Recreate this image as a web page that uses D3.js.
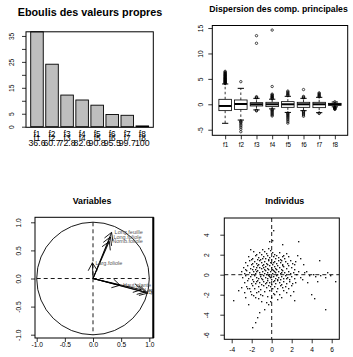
<!DOCTYPE html>
<html>
<head>
<meta charset="utf-8">
<script src="https://cdn.jsdelivr.net/npm/d3@7"></script>
<style>
	body { margin: 0; background: #fff; }
	svg { display: block; }
</style>
</head>
<body>
<svg id="chart" width="353" height="357"></svg>
<script>
/* eslint-disable no-var, no-undef */

// scree plot: % inertia per axis, names printed under bars
var axisNames = [ 'f1', 'f2', 'f3', 'f4', 'f5', 'f6', 'f7', 'f8' ];
var inertia = [ 36.6, 24.1, 12.2, 10.3, 8.3, 4.7, 4.4, 0.3 ];
var inertiaCum = [ '36.6', '60.7', '72.8', '82.6', '90.8', '95.5', '99.7', '100' ];
var screeTicks = [ 0, 5, 10, 15, 20, 25, 30, 35 ];
var screeLabels = [ 0, 5, 15, 25, 35 ];

// boxplots of principal components
var boxQ1 = [ -1.25, -1.0, -0.33, -0.46, -0.6, -0.6, -0.66, -0.2 ];
var boxMed = [ -0.33, 0.06, 0.0, 0.0, 0.0, 0.0, 0.0, 0.0 ];
var boxQ3 = [ 0.98, 0.85, 0.32, 0.39, 0.52, 0.39, 0.39, 0.19 ];
var boxLow = [ -3.74, -3.1, -1.1, -0.9, -1.6, -1.25, -1.65, -0.5 ];
var boxHigh = [ 4.0, 3.14, 1.17, 1.0, 1.57, 1.17, 1.37, 0.45 ];
var boxOut = [
	[ 4.08, 4.15, 4.27, 4.33, 4.41, 4.52, 4.6, 4.66, 4.78, 4.85, 4.97, 5.04, 5.12, 5.25, 5.31, 5.43, 5.56, 5.62, 5.74, 5.88, 5.95, 6.07, 6.2, 6.34, 6.48 ],
	[ 4.45, -3.3, -3.45, -3.6, -3.9, -4.2, -4.5, -4.9, -5.4 ],
	[ 1.25, 1.35, 1.5, 12.0, 13.5, -1.2, -1.3 ],
	[ 1.1, 1.2, 1.3, 1.45, 1.55, 1.7, 1.85, 2.0, 3.5, 14.6, -1.0, -1.15, -1.3, -1.5, -1.7, -1.9, -2.1, -2.3 ],
	[ 1.7, 1.85, 2.0, 2.2, 2.4, 2.6, -1.7, -1.85, -2.0, -2.2, -2.4, -2.6, -2.85, -3.1, -3.4, -3.7 ],
	[ 1.25, 1.4, 1.55, 2.9, -1.35, -1.5, -1.7, -1.9, -2.1, -2.35 ],
	[ 1.45, 1.6, 1.75, 1.9, 2.1, 2.25, -1.7, -1.8 ],
	[ 0.5, -0.55, -0.62, -0.7, -0.78, -0.85, -0.93, -1.0 ]
];
var dispTicks = [ -5, 0, 5, 10, 15 ];

// correlation circle
var varNames = [ 'Long.feuille', 'Long.foliole', 'Nomb.foliole', 'Larg.foliole', 'Haut.plante', 'Long.tige', 'Diam.tige', 'Nomb.tige' ];
var varX = [ 0.33, 0.31, 0.29, -0.01, 0.48, 0.86, 0.93, 0.97 ];
var varY = [ 0.82, 0.74, 0.66, 0.28, -0.12, -0.2, -0.24, -0.26 ];
var corTicks = [ -1, -0.5, 0, 0.5, 1 ];

// individuals on the first plane
var indTicksX = [ -4, -2, 0, 2, 4, 6 ];
var indTicksY = [ -6, -4, -2, 0, 2, 4 ];
var indiv = [
	[ 0.2, 4.4 ], [ -0.2, 3.3 ], [ 0.1, 3.4 ], [ 1.1, 3.0 ], [ 2.7, 3.3 ], [ 4.8, 1.4 ], [ 2.6, 1.9 ], [ 2.9, 1.6 ], [ 3.2, 1.0 ], [ 2.3, 1.0 ],
	[ 3.5, 0.3 ], [ 3.8, -0.1 ], [ 4.2, 0.0 ], [ 4.4, -0.2 ], [ 4.9, -0.1 ], [ 5.4, -0.3 ], [ 5.9, -0.1 ], [ 6.4, -0.7 ], [ 5.6, 0.2 ], [ 4.6, -0.7 ],
	[ 3.6, -0.8 ], [ 3.1, -0.5 ], [ 3.3, 0.2 ], [ 2.9, -0.3 ],
	[ 4.0, -2.0 ], [ 4.3, -2.4 ], [ 5.4, -3.5 ], [ 2.3, -2.6 ], [ 1.5, -1.8 ], [ 1.0, -2.3 ], [ 0.6, -2.5 ], [ 0.3, -2.0 ],
	[ -1.9, -5.3 ], [ -1.6, -4.8 ], [ -1.4, -4.3 ], [ -1.2, -3.8 ], [ -0.7, -3.5 ], [ -0.3, -3.0 ], [ -0.1, -2.7 ], [ -0.5, -2.8 ],
	[ -1.0, -2.7 ], [ -2.3, -3.0 ], [ -3.8, -2.6 ], [ -2.7, -1.8 ], [ -2.0, -2.0 ], [ -1.6, -2.3 ], [ -2.4, -1.4 ], [ -3.0, -1.3 ],
	[ -3.3, -1.6 ], [ -2.6, -2.3 ], [ -1.3, -1.7 ], [ -0.9, -2.1 ],
	[ -1.8, 2.3 ], [ -1.2, 2.2 ], [ -0.9, 2.5 ], [ -0.5, 2.1 ], [ -0.1, 2.4 ], [ 0.3, 2.0 ], [ -1.5, 2.0 ], [ -2.1, 2.5 ], [ 0.8, 2.2 ],
	[ -0.3, 2.6 ], [ 1.5, 2.1 ], [ -0.7, 2.3 ], [ 0.1, 2.2 ], [ -1.0, 2.0 ], [ 1.2, 1.9 ],
	[ -2.3, 1.8 ], [ -1.9, 1.6 ], [ -1.6, 1.9 ], [ -1.3, 1.7 ], [ -1.1, 1.5 ], [ -0.8, 1.8 ], [ -0.6, 1.6 ], [ -0.4, 1.9 ], [ -0.2, 1.7 ],
	[ 0.0, 1.5 ], [ 0.2, 1.8 ], [ 0.4, 1.6 ], [ 0.7, 1.7 ], [ 0.9, 1.5 ], [ 1.3, 1.6 ], [ 1.7, 1.8 ], [ -1.4, 1.5 ], [ -0.9, 1.6 ],
	[ -0.3, 1.5 ], [ 0.5, 1.9 ], [ -2.0, 1.5 ], [ 1.1, 1.8 ],
	[ -2.6, 1.2 ], [ -2.2, 1.4 ], [ -1.9, 1.1 ], [ -1.7, 1.3 ], [ -1.5, 1.1 ], [ -1.2, 1.4 ], [ -1.0, 1.2 ], [ -0.8, 1.0 ], [ -0.7, 1.3 ],
	[ -0.5, 1.1 ], [ -0.3, 1.4 ], [ -0.1, 1.2 ], [ 0.1, 1.0 ], [ 0.3, 1.3 ], [ 0.5, 1.1 ], [ 0.7, 1.4 ], [ 0.9, 1.2 ], [ 1.1, 1.0 ],
	[ 1.4, 1.3 ], [ 1.6, 1.1 ], [ 1.9, 1.4 ], [ 2.1, 1.1 ], [ -1.3, 1.0 ], [ -0.4, 1.0 ], [ 0.2, 1.2 ], [ 1.0, 1.4 ], [ -2.0, 1.0 ], [ 2.4, 1.3 ],
	[ -2.8, 0.7 ], [ -2.4, 0.9 ], [ -2.1, 0.6 ], [ -1.8, 0.8 ], [ -1.6, 0.5 ], [ -1.4, 0.9 ], [ -1.2, 0.7 ], [ -1.0, 0.6 ], [ -0.9, 0.9 ],
	[ -0.7, 0.5 ], [ -0.6, 0.8 ], [ -0.4, 0.6 ], [ -0.2, 0.9 ], [ 0.0, 0.7 ], [ 0.1, 0.5 ], [ 0.3, 0.8 ], [ 0.4, 0.6 ], [ 0.6, 0.9 ],
	[ 0.8, 0.7 ], [ 1.0, 0.5 ], [ 1.2, 0.8 ], [ 1.5, 0.6 ], [ 1.7, 0.9 ], [ 2.0, 0.7 ], [ 2.3, 0.5 ], [ -1.9, 0.5 ], [ -0.8, 0.7 ],
	[ -0.3, 0.5 ], [ 0.5, 0.5 ], [ 1.1, 0.9 ], [ -2.6, 0.5 ], [ -1.5, 0.7 ],
	[ -3.0, 0.3 ], [ -2.7, 0.1 ], [ -2.5, 0.4 ], [ -2.2, 0.2 ], [ -2.0, 0.0 ], [ -1.8, 0.3 ], [ -1.6, 0.1 ], [ -1.4, 0.4 ], [ -1.2, 0.2 ],
	[ -1.1, 0.0 ], [ -0.9, 0.3 ], [ -0.7, 0.1 ], [ -0.6, 0.4 ], [ -0.4, 0.2 ], [ -0.2, 0.0 ], [ -0.1, 0.3 ], [ 0.1, 0.1 ], [ 0.2, 0.4 ],
	[ 0.4, 0.2 ], [ 0.6, 0.0 ], [ 0.7, 0.3 ], [ 0.9, 0.1 ], [ 1.1, 0.4 ], [ 1.3, 0.2 ], [ 1.5, 0.0 ], [ 1.7, 0.3 ], [ 1.9, 0.1 ],
	[ 2.2, 0.2 ], [ 2.5, 0.0 ], [ -1.5, 0.3 ], [ -0.5, 0.0 ], [ 0.3, 0.3 ], [ 1.0, 0.2 ], [ 2.7, 0.3 ],
	[ -2.9, -0.3 ], [ -2.6, -0.1 ], [ -2.3, -0.4 ], [ -2.1, -0.2 ], [ -1.9, -0.5 ], [ -1.7, -0.1 ], [ -1.5, -0.3 ], [ -1.3, -0.4 ],
	[ -1.1, -0.2 ], [ -0.9, -0.5 ], [ -0.8, -0.1 ], [ -0.6, -0.3 ], [ -0.4, -0.4 ], [ -0.3, -0.1 ], [ -0.1, -0.3 ], [ 0.0, -0.5 ],
	[ 0.2, -0.2 ], [ 0.4, -0.4 ], [ 0.5, -0.1 ], [ 0.7, -0.3 ], [ 0.9, -0.5 ], [ 1.0, -0.2 ], [ 1.2, -0.4 ], [ 1.4, -0.1 ], [ 1.6, -0.3 ],
	[ 1.8, -0.5 ], [ 2.0, -0.2 ], [ 2.3, -0.4 ], [ -1.0, -0.4 ], [ -0.2, -0.2 ], [ 0.6, -0.5 ], [ 1.5, -0.4 ],
	[ -2.7, -0.8 ], [ -2.4, -0.6 ], [ -2.0, -0.9 ], [ -1.8, -0.7 ], [ -1.6, -0.9 ], [ -1.4, -0.6 ], [ -1.2, -0.8 ], [ -1.0, -1.0 ],
	[ -0.8, -0.7 ], [ -0.6, -0.9 ], [ -0.4, -0.6 ], [ -0.2, -0.8 ], [ 0.0, -1.0 ], [ 0.2, -0.7 ], [ 0.4, -0.9 ], [ 0.6, -0.6 ],
	[ 0.8, -0.8 ], [ 1.0, -1.0 ], [ 1.2, -0.7 ], [ 1.5, -0.9 ], [ 1.8, -0.7 ], [ 2.1, -0.9 ], [ -1.5, -0.7 ], [ -0.5, -0.8 ], [ 0.3, -0.6 ], [ 2.4, -0.8 ],
	[ -2.5, -1.2 ], [ -2.2, -1.4 ], [ -1.9, -1.1 ], [ -1.7, -1.4 ], [ -1.3, -1.2 ], [ -1.1, -1.5 ], [ -0.8, -1.1 ], [ -0.5, -1.3 ],
	[ -0.3, -1.1 ], [ 0.1, -1.4 ], [ 0.3, -1.2 ], [ 0.6, -1.4 ], [ 0.9, -1.1 ], [ 1.1, -1.3 ], [ 1.4, -1.2 ], [ 1.7, -1.4 ], [ 2.0, -1.1 ], [ -0.1, -1.2 ],
	[ -2.1, -1.7 ], [ -1.8, -2.1 ], [ -1.5, -1.8 ], [ -1.1, -2.0 ], [ -0.7, -1.7 ], [ -0.4, -2.2 ], [ -0.2, -1.6 ], [ 0.2, -1.9 ],
	[ 0.5, -1.7 ], [ 0.8, -2.0 ], [ 1.2, -1.6 ], [ 1.9, -2.1 ], [ 0.0, -2.3 ], [ -1.3, -2.4 ], [ 2.2, -1.7 ]
];

var font = "'Liberation Sans', Arial, Helvetica, sans-serif";
var svg = d3.select( '#chart' );

function title( text, x, y, size ) {
	svg.append( 'text' )
		.attr( 'x', x )
		.attr( 'y', y )
		.attr( 'text-anchor', 'middle' )
		.attr( 'font-family', font )
		.attr( 'font-weight', 'bold' )
		.attr( 'font-size', size )
		.text( text );
}

function frame( b, width ) {
	svg.append( 'rect' )
		.attr( 'x', b.left )
		.attr( 'y', b.top )
		.attr( 'width', b.right - b.left )
		.attr( 'height', b.bottom - b.top )
		.attr( 'fill', 'none' )
		.attr( 'stroke', '#000' )
		.attr( 'stroke-width', width || 1 );
}

function clipTo( id, b ) {
	svg.append( 'clipPath' )
		.attr( 'id', id )
		.append( 'rect' )
		.attr( 'x', b.left )
		.attr( 'y', b.top )
		.attr( 'width', b.right - b.left )
		.attr( 'height', b.bottom - b.top );
}

// R style axis: rotated labels on the left, only some ticks labelled
function leftAxis( scale, x, ticks, shown, offset, fmt ) {
	var ax = svg.append( 'g' )
		.attr( 'transform', 'translate(' + x + ',0)' )
		.call( d3.axisLeft( scale )
			.tickValues( ticks )
			.tickSize( 4 )
			.tickSizeOuter( 0 )
			.tickFormat( function( d ) {
				return shown.indexOf( d ) >= 0 ? fmt( d ) : '';
			} ) );
	ax.select( '.domain' ).remove();
	ax.selectAll( 'line' ).attr( 'stroke-width', 0.8 );
	ax.selectAll( 'text' )
		.attr( 'transform', 'rotate(-90)' )
		.attr( 'x', 0 )
		.attr( 'y', offset )
		.attr( 'dy', 0 )
		.attr( 'text-anchor', 'middle' )
		.attr( 'font-family', font )
		.attr( 'font-size', 6.6 );
}

function bottomAxis( scale, y, ticks, offset, fmt, size ) {
	var ax = svg.append( 'g' )
		.attr( 'transform', 'translate(0,' + y + ')' )
		.call( d3.axisBottom( scale )
			.tickValues( ticks )
			.tickSize( 4 )
			.tickSizeOuter( 0 )
			.tickFormat( fmt ) );
	ax.select( '.domain' ).remove();
	ax.selectAll( 'line' ).attr( 'stroke-width', 0.8 );
	ax.selectAll( 'text' )
		.attr( 'y', offset )
		.attr( 'dy', 0 )
		.attr( 'font-family', font )
		.attr( 'font-size', size || 6.6 );
}

function num1( d ) {
	return d.toFixed( 1 );
}

function num0( d ) {
	return String( d );
}

// ---- 1. scree plot
var scree = { left: 26, right: 153.3, top: 31.8, bottom: 127.3 };
var sx = d3.scaleBand()
	.domain( axisNames )
	.range( [ scree.left, scree.right ] )
	.paddingInner( 1 / 6 )
	.paddingOuter( 0.313 );
var sy = d3.scaleLinear()
	.domain( [ 0, 36.6 ] )
	.range( [ 126.7, 31.8 ] );

title( 'Eboulis des valeurs propres', 90, 15.5, 10.8 );

svg.append( 'g' )
	.selectAll( 'rect' )
	.data( inertia )
	.enter()
	.append( 'rect' )
	.attr( 'x', function( d, i ) {
		return sx( axisNames[ i ] );
	} )
	.attr( 'y', function( d ) {
		return sy( d );
	} )
	.attr( 'width', sx.bandwidth() )
	.attr( 'height', function( d ) {
		return sy( 0 ) - sy( d );
	} )
	.attr( 'fill', '#bebebe' )
	.attr( 'stroke', '#000' )
	.attr( 'stroke-width', 0.9 );

frame( scree );
leftAxis( sy, scree.left, screeTicks, screeLabels, -12, num0 );

var names = svg.append( 'g' )
	.attr( 'font-family', font )
	.attr( 'text-anchor', 'middle' );
axisNames.forEach( function( n, i ) {
	var cx = sx( n ) + sx.bandwidth() / 2;
	names.append( 'text' ).attr( 'x', cx ).attr( 'y', 136.5 ).attr( 'font-size', 8.3 ).text( n );
	names.append( 'text' ).attr( 'x', cx ).attr( 'y', 140.5 ).attr( 'font-size', 8.3 ).text( n );
	names.append( 'text' ).attr( 'x', cx ).attr( 'y', 145.5 ).attr( 'font-size', 8.8 ).text( inertiaCum[ i ] );
} );

// ---- 2. boxplots
var disp = { left: 212.3, right: 347.7, top: 25.5, bottom: 135.3 };
var bx = d3.scalePoint()
	.domain( axisNames )
	.range( [ disp.left, disp.right ] )
	.padding( 0.82 );
var by = d3.scaleLinear()
	.domain( [ -6.1, 15.5 ] )
	.range( [ disp.bottom, disp.top ] );
var boxW = bx.step() * 0.8;

title( 'Dispersion des comp. principales', 278.5, 11.5, 8.7 );

var bg = svg.append( 'g' ).attr( 'stroke', '#000' );
axisNames.forEach( function( n, i ) {
	var cx = bx( n );
	// whiskers
	bg.append( 'line' )
		.attr( 'x1', cx ).attr( 'x2', cx )
		.attr( 'y1', by( boxQ3[ i ] ) ).attr( 'y2', by( boxHigh[ i ] ) )
		.attr( 'stroke-width', 0.8 ).attr( 'stroke-dasharray', '2.5,2.5' );
	bg.append( 'line' )
		.attr( 'x1', cx ).attr( 'x2', cx )
		.attr( 'y1', by( boxQ1[ i ] ) ).attr( 'y2', by( boxLow[ i ] ) )
		.attr( 'stroke-width', 0.8 ).attr( 'stroke-dasharray', '2.5,2.5' );
	[ boxHigh[ i ], boxLow[ i ] ].forEach( function( v ) {
		bg.append( 'line' )
			.attr( 'x1', cx - boxW / 4 ).attr( 'x2', cx + boxW / 4 )
			.attr( 'y1', by( v ) ).attr( 'y2', by( v ) )
			.attr( 'stroke-width', 1 );
	} );
	bg.append( 'rect' )
		.attr( 'x', cx - boxW / 2 )
		.attr( 'y', by( boxQ3[ i ] ) )
		.attr( 'width', boxW )
		.attr( 'height', by( boxQ1[ i ] ) - by( boxQ3[ i ] ) )
		.attr( 'fill', '#fff' )
		.attr( 'stroke-width', 0.8 );
	bg.append( 'line' )
		.attr( 'x1', cx - boxW / 2 ).attr( 'x2', cx + boxW / 2 )
		.attr( 'y1', by( boxMed[ i ] ) ).attr( 'y2', by( boxMed[ i ] ) )
		.attr( 'stroke-width', 2 );
	bg.selectAll( null )
		.data( boxOut[ i ] )
		.enter()
		.append( 'circle' )
		.attr( 'cx', cx )
		.attr( 'cy', function( d ) {
			return by( d );
		} )
		.attr( 'r', 1.2 )
		.attr( 'fill', 'none' )
		.attr( 'stroke-width', 0.7 );
} );

frame( disp );
leftAxis( by, disp.left, dispTicks, dispTicks, -9, num0 );
bottomAxis( bx, disp.bottom, axisNames, 12, function( d ) {
	return d;
}, 6.3 );

// ---- 3. correlation circle
var cor = { left: 35, right: 153.3, top: 217.3, bottom: 338 };
var cx = d3.scaleLinear().domain( [ -1, 1 ] ).range( [ 36.7, 149.3 ] );
var cy = d3.scaleLinear().domain( [ -1, 1 ] ).range( [ 334.7, 222.3 ] );

title( 'Variables', 92, 203.7, 8.8 );
clipTo( 'clip-cor', cor );

var cg = svg.append( 'g' ).attr( 'clip-path', 'url(#clip-cor)' );
cg.append( 'circle' )
	.attr( 'cx', cx( 0 ) )
	.attr( 'cy', cy( 0 ) )
	.attr( 'r', cx( 1 ) - cx( 0 ) )
	.attr( 'fill', 'none' )
	.attr( 'stroke', '#000' )
	.attr( 'stroke-width', 0.9 );
cg.append( 'line' )
	.attr( 'x1', cx( -1 ) ).attr( 'x2', cx( 1 ) )
	.attr( 'y1', cy( 0 ) ).attr( 'y2', cy( 0 ) )
	.attr( 'stroke', '#000' ).attr( 'stroke-width', 0.9 ).attr( 'stroke-dasharray', '4,3' );
cg.append( 'line' )
	.attr( 'x1', cx( 0 ) ).attr( 'x2', cx( 0 ) )
	.attr( 'y1', cy( 1 ) ).attr( 'y2', cy( -1 ) )
	.attr( 'stroke', '#000' ).attr( 'stroke-width', 0.9 ).attr( 'stroke-dasharray', '4,3' );

varNames.forEach( function( n, i ) {
	var x0 = cx( 0 ), y0 = cy( 0 );
	var x1 = cx( varX[ i ] ), y1 = cy( varY[ i ] );
	var a = Math.atan2( y1 - y0, x1 - x0 );
	var head = 9, spread = Math.PI / 6;
	var path = d3.path();
	path.moveTo( x0, y0 );
	path.lineTo( x1, y1 );
	path.moveTo( x1 - head * Math.cos( a - spread ), y1 - head * Math.sin( a - spread ) );
	path.lineTo( x1, y1 );
	path.lineTo( x1 - head * Math.cos( a + spread ), y1 - head * Math.sin( a + spread ) );
	cg.append( 'path' )
		.attr( 'd', path.toString() )
		.attr( 'fill', 'none' )
		.attr( 'stroke', '#000' )
		.attr( 'stroke-width', 0.9 );
	cg.append( 'text' )
		.attr( 'x', x1 + 3 )
		.attr( 'y', y1 )
		.attr( 'dy', '0.35em' )
		.attr( 'font-family', font )
		.attr( 'font-size', 5.5 )
		.attr( 'fill', '#555' )
		.text( n );
} );

frame( cor );
svg.append( 'line' )
	.attr( 'x1', cor.right ).attr( 'x2', cor.right )
	.attr( 'y1', cor.top ).attr( 'y2', cor.bottom )
	.attr( 'stroke', '#000' ).attr( 'stroke-width', 2 );
leftAxis( cy, cor.left, corTicks, corTicks, -14.3, num1 );
bottomAxis( cx, cor.bottom, corTicks, 9.3, num1 );

// ---- 4. individuals
var ind = { left: 224.3, right: 339.3, top: 218, bottom: 339.3 };
var ix = d3.scaleLinear().domain( [ -4, 6 ] ).range( [ 231.7, 331.7 ] );
var iy = d3.scaleLinear().domain( [ -6, 4 ] ).range( [ 334.7, 234.7 ] );

title( 'Individus', 284.8, 203.7, 8.9 );
clipTo( 'clip-ind', ind );

var ig = svg.append( 'g' ).attr( 'clip-path', 'url(#clip-ind)' );
ig.append( 'line' )
	.attr( 'x1', ind.left ).attr( 'x2', ind.right )
	.attr( 'y1', iy( 0 ) ).attr( 'y2', iy( 0 ) )
	.attr( 'stroke', '#000' ).attr( 'stroke-width', 0.9 ).attr( 'stroke-dasharray', '4,3' );
ig.append( 'line' )
	.attr( 'x1', ix( 0 ) ).attr( 'x2', ix( 0 ) )
	.attr( 'y1', ind.top ).attr( 'y2', ind.bottom )
	.attr( 'stroke', '#000' ).attr( 'stroke-width', 0.9 ).attr( 'stroke-dasharray', '4,3' );
ig.selectAll( 'rect' )
	.data( indiv )
	.enter()
	.append( 'rect' )
	.attr( 'x', function( d ) {
		return ix( d[ 0 ] ) - 0.65;
	} )
	.attr( 'y', function( d ) {
		return iy( d[ 1 ] ) - 0.65;
	} )
	.attr( 'width', 1.3 )
	.attr( 'height', 1.3 )
	.attr( 'fill', '#000' );

frame( ind );
leftAxis( iy, ind.left, indTicksY, indTicksY, -15, num0 );
bottomAxis( ix, ind.bottom, indTicksX, 12.5, num0 );
</script>
</body>
</html>
